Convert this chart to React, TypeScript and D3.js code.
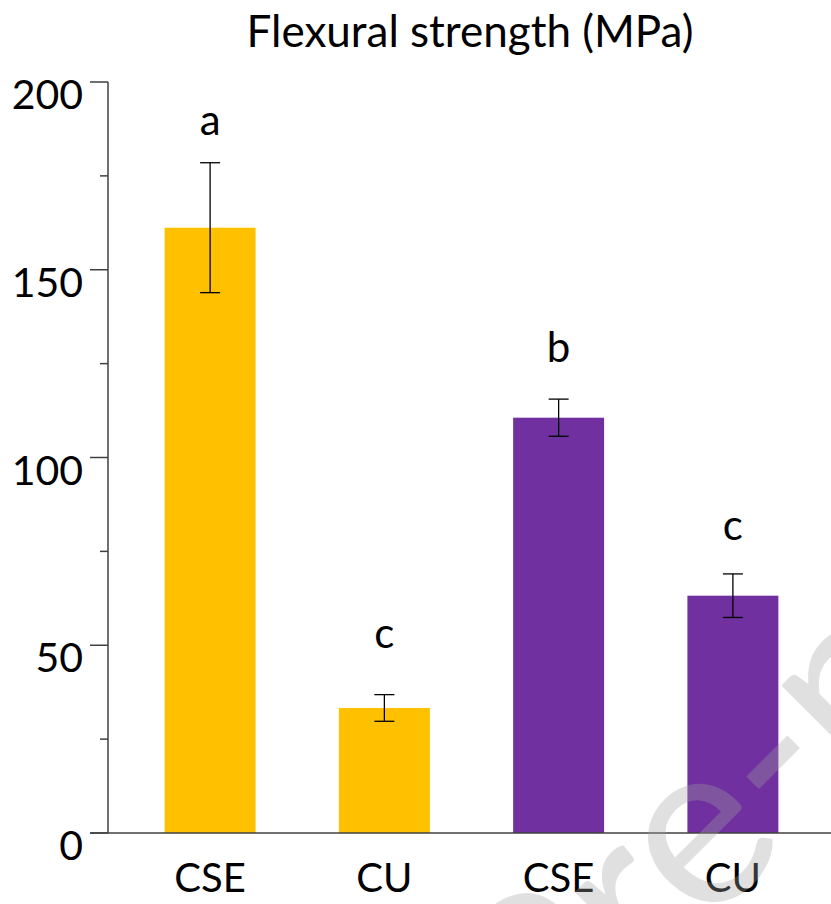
import React from "react";
import * as d3 from "d3";

const categories = ["CSE", "CU", "CSE", "CU"];
const groups = ["g1", "g1", "g2", "g2"];
const means = [161.2, 33.3, 110.6, 63.2];
const errors = [17.3, 3.55, 4.95, 5.8];
const letters = ["a", "c", "b", "c"];
const letterValues = [185.9, 49.3, 125.5, 78];
const majorTicks = [0, 50, 100, 150, 200];
const minorTicks = [25, 75, 125, 175];
const groupColors: Record<string, string> = { g1: "#FFC000", g2: "#7030A0" };
const title = "Flexural strength (MPa)";
const watermark = "Pre-proof";

const W = 831;
const H = 904;
const FONT = "Lato, 'Open Sans', sans-serif";

export default function App() {
  const x = d3
    .scaleBand<number>()
    .domain(d3.range(categories.length))
    .range([108, 835])
    .paddingInner(0.478)
    .paddingOuter(0.325);
  const y = d3.scaleLinear().domain([0, 200]).range([833, 82]);
  const axisColor = "#404040";
  const bw = x.bandwidth();
  const capW = 20;

  return (
    <svg
      width={W}
      height={H}
      style={{ position: "absolute", left: 0, top: 0, background: "#fff" }}
      fontFamily={FONT}
    >
      <rect x={0} y={0} width={W} height={H} fill="#fff" />
      <text x={470} y={47} textAnchor="middle" fontSize={44} fill="#000">
        {title}
      </text>

      {categories.map((c, i) => (
        <rect
          key={"b" + i}
          x={x(i)!}
          y={y(means[i])}
          width={bw}
          height={y(0) - y(means[i])}
          fill={groupColors[groups[i]]}
        />
      ))}

      {categories.map((c, i) => {
        const cx = x(i)! + bw / 2;
        const hi = y(means[i] + errors[i]);
        const lo = y(means[i] - errors[i]);
        return (
          <g key={"e" + i} stroke="#000" strokeWidth={1.3}>
            <line x1={cx} x2={cx} y1={hi} y2={lo} />
            <line x1={cx - capW / 2} x2={cx + capW / 2} y1={hi} y2={hi} />
            <line x1={cx - capW / 2} x2={cx + capW / 2} y1={lo} y2={lo} />
          </g>
        );
      })}

      {letters.map((l, i) => (
        <text
          key={"l" + i}
          x={x(i)! + bw / 2}
          y={y(letterValues[i])}
          textAnchor="middle"
          fontSize={42}
          fill="#000"
        >
          {l}
        </text>
      ))}

      {/* axes */}
      <line x1={108} x2={108} y1={y(200)} y2={y(0)} stroke={axisColor} strokeWidth={1.5} />
      <line x1={90} x2={W} y1={y(0)} y2={y(0)} stroke={axisColor} strokeWidth={1.5} />
      {majorTicks.map((t) => (
        <g key={"t" + t}>
          <line x1={90} x2={108} y1={y(t)} y2={y(t)} stroke={axisColor} strokeWidth={1.5} />
          <text x={83} y={y(t) + 27} textAnchor="end" fontSize={41} fill="#000">
            {t}
          </text>
        </g>
      ))}
      {minorTicks.map((t) => (
        <line key={"m" + t} x1={100} x2={108} y1={y(t)} y2={y(t)} stroke={axisColor} strokeWidth={1.5} />
      ))}
      {categories.map((c, i) => (
        <text
          key={"x" + i}
          x={x(i)! + bw / 2}
          y={892}
          textAnchor="middle"
          fontSize={40}
          fill="#000"
        >
          {c}
        </text>
      ))}

      <text
        transform="translate(549,1086) rotate(-45)"
        fontSize={235}
        fill="#a0a0a0"
        fillOpacity={0.33}
      >
        {watermark}
      </text>
    </svg>
  );
}
